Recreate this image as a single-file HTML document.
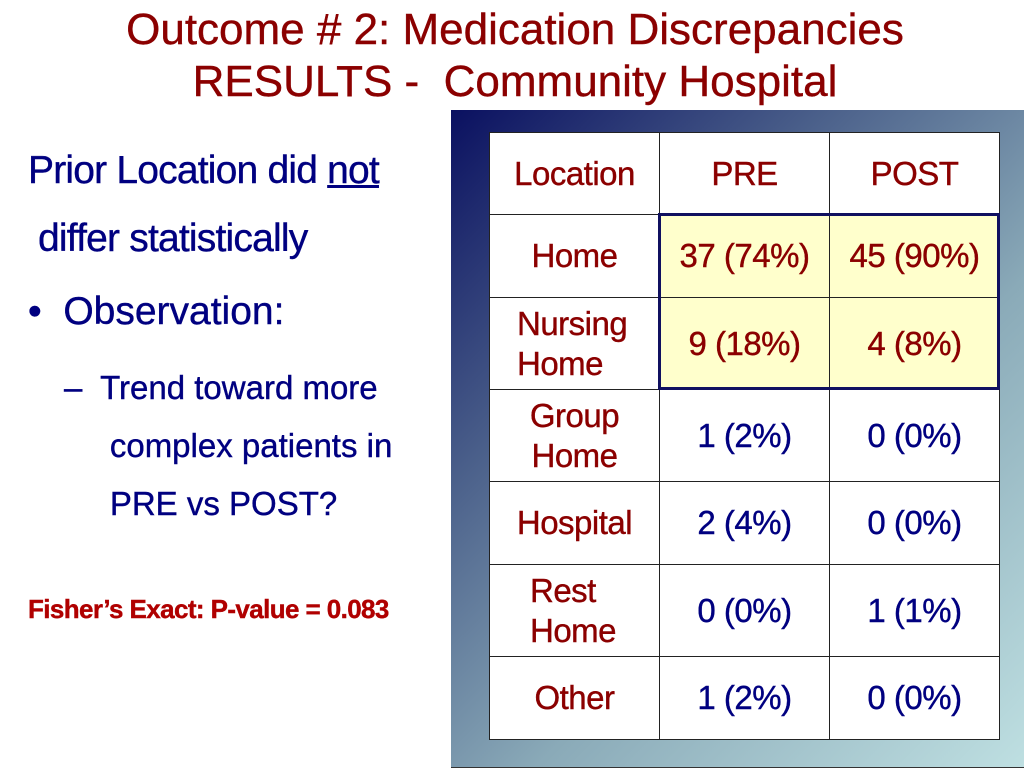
<!DOCTYPE html>
<html><head><meta charset="utf-8"><style>
body{margin:0;width:1024px;height:768px;background:#fff;position:relative;overflow:hidden;font-family:"Liberation Sans",Arial,sans-serif}
.t{position:absolute;white-space:nowrap;-webkit-text-stroke:0.4px currentColor}
.title{left:0;width:1030px;text-align:center;color:#8B0000;font-size:44px;line-height:52px}
.panel{position:absolute;left:451px;top:110px;width:580px;height:657px;background:linear-gradient(135deg,#0a1060 0%,#4a5f8a 30%,#8aaab8 60%,#bfe0e2 100%);border-bottom:1px solid #333}
.cell{position:absolute;display:flex;align-items:center;justify-content:center;text-align:center;font-size:33px;line-height:40px;box-sizing:border-box;border:1.5px solid #222;background:#fff;-webkit-text-stroke:0.4px currentColor;letter-spacing:-0.5px}
.red{color:#8B0000}.blue{color:#000080}
.hl{background:#ffffcc}
</style></head><body>
<div class="t title" style="top:4px">Outcome # 2: Medication Discrepancies<br>RESULTS -&nbsp; Community Hospital</div>
<div class="t" style="left:28px;top:137px;color:#000080;font-size:39px;line-height:68px;letter-spacing:-0.8px">Prior Location did <u>not</u><br>&nbsp;differ statistically</div>
<div class="t" style="left:28px;top:290px;color:#000080;font-size:39px">•&nbsp; Observation:</div>
<div class="t" style="left:64px;top:359px;color:#000080;font-size:33px;line-height:58px">–&nbsp; Trend toward more<br>&nbsp;&nbsp;&nbsp;&nbsp; complex patients in<br>&nbsp;&nbsp;&nbsp;&nbsp; PRE vs POST?</div>
<div class="t" style="left:28px;top:594px;color:#b00000;font-size:26px;font-weight:bold;letter-spacing:-0.6px">Fisher’s Exact: P-value = 0.083</div>
<div class="panel"></div>
<div id="tbl" style="position:absolute;left:489px;top:132px;width:510px;height:608px;border:3px solid #111;box-sizing:border-box;background:#fff"></div>
<script>
const cols=[489,659,829,999];
const rows=[132,214,297,389,481,564,656,739];
const labels=["Location","Home","Nursing<br>Home","Group<br>Home","Hospital","Rest<br>Home","Other"];
const pre=["PRE","37 (74%)","9 (18%)","1 (2%)","2 (4%)","0 (0%)","1 (2%)"];
const post=["POST","45 (90%)","4 (8%)","0 (0%)","0 (0%)","1 (1%)","0 (0%)"];
const align=["center","center","left","center","center","left","center"];
const pad=[0,0,27,0,0,40,0];
for(let r=0;r<7;r++){
  const vals=[labels[r],pre[r],post[r]];
  for(let c=0;c<3;c++){
    const d=document.createElement('div');
    
    
    d.className='cell '+((r<3||c===0)?'red':'blue')+((r===1||r===2)&&c>0?' hl':'');
    d.style.left=cols[c]+'px';d.style.top=rows[r]+'px';
    d.style.width=(cols[c+1]-cols[c]+1)+'px';d.style.height=(rows[r+1]-rows[r]+1)+'px';
    if(c===0&&align[r]==='left'){d.style.justifyContent='flex-start';d.style.textAlign='left';d.style.paddingLeft=pad[r]+'px';}
    d.innerHTML=vals[c];
    document.body.appendChild(d);
  }
}
const b=document.createElement('div');


b.style.cssText='position:absolute;left:'+(cols[1]-1)+'px;top:'+(rows[1]-1)+'px;width:'+(cols[3]-cols[1]+2)+'px;height:'+(rows[3]-rows[1]+2)+'px;border:3px solid #101060;box-sizing:border-box;';
document.body.appendChild(b);
</script>
</body></html>
